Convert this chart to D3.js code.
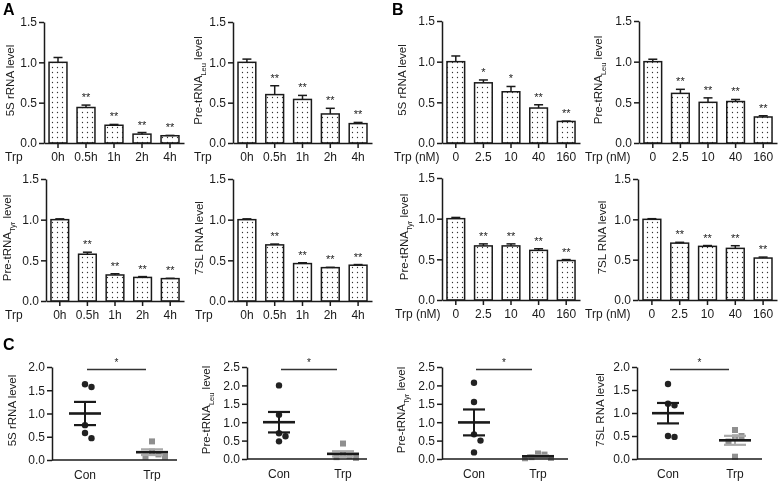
<!DOCTYPE html>
<html><head><meta charset="utf-8">
<script src="https://cdn.jsdelivr.net/npm/d3@7"></script>
<style>
body{margin:0;background:#fff}
svg{display:block;font-family:"Liberation Sans",Arial,Helvetica,sans-serif;filter:grayscale(1)}
</style></head><body>
<svg id="c" width="778" height="481"></svg>
<script>
// ---------- DATA ----------
const timeCats = ["0h","0.5h","1h","2h","4h"];
const doseCats = ["0","2.5","10","40","160"];
const barTicks = [0,0.5,1.0,1.5];

const a5SMean  = [1.00,0.44,0.22,0.11,0.09];
const a5SErr   = [0.06,0.03,0.01,0.02,0.004];
const a5SSig   = ["","**","**","**","**"];
const aLeuMean = [1.00,0.60,0.54,0.36,0.24];
const aLeuErr  = [0.04,0.11,0.05,0.07,0.015];
const aLeuSig  = ["","**","**","**","**"];
const aTyrMean = [1.00,0.575,0.32,0.29,0.275];
const aTyrErr  = [0.01,0.025,0.015,0.01,0.004];
const aTyrSig  = ["","**","**","**","**"];
const a7SLMean = [1.00,0.69,0.46,0.41,0.44];
const a7SLErr  = [0.01,0.01,0.01,0.004,0.008];
const a7SLSig  = ["","**","**","**","**"];

const b5SMean  = [1.00,0.74,0.63,0.43,0.265];
const b5SErr   = [0.07,0.035,0.065,0.04,0.004];
const b5SSig   = ["","*","*","**","**"];
const bLeuMean = [1.00,0.61,0.50,0.51,0.32];
const bLeuErr  = [0.03,0.05,0.055,0.025,0.015];
const bLeuSig  = ["","**","**","**","**"];
const bTyrMean = [1.00,0.665,0.665,0.61,0.485];
const bTyrErr  = [0.015,0.025,0.025,0.02,0.012];
const bTyrSig  = ["","**","**","**","**"];
const b7SLMean = [1.00,0.705,0.665,0.64,0.52];
const b7SLErr  = [0.008,0.01,0.01,0.033,0.012];
const b7SLSig  = ["","**","**","**","**"];

const groups = ["Con","Trp"];
const c5SCon  = [1.63,1.57,0.75,0.58,0.47];
const c5STrp  = [0.40,0.18,0.12,0.07,0.07];
const cLeuCon = [2.00,1.20,0.70,0.62,0.48];
const cLeuTrp = [0.42,0.12,0.08,0.05,0.03];
const cTyrCon = [2.07,1.55,0.67,0.50,0.18];
const cTyrTrp = [0.15,0.12,0.05,0.03,0.02];
const c7SLCon = [1.63,1.20,1.17,0.50,0.48];
const c7SLTrp = [0.63,0.50,0.47,0.38,0.05];
const c5STicks  = [0,0.5,1.0,1.5,2.0];
const cLeuTicks = [0,0.5,1.0,1.5,2.0,2.5];
const cTyrTicks = [0,0.5,1.0,1.5,2.0,2.5];
const c7SLTicks = [0,0.5,1.0,1.5,2.0];
const cSig = "*";

// ---------- LABELS ----------
const L5S  = [{t:"5S rRNA level"}];
const LLeu = [{t:"Pre-tRNA"},{t:"Leu",sup:true},{t:" level"}];
const LTyr = [{t:"Pre-tRNA"},{t:"Tyr",sup:true},{t:" level"}];
const L7SL = [{t:"7SL RNA level"}];

const svg = d3.select("#c");
const defs = svg.append("defs");
const pat = defs.append("pattern").attr("id","dots").attr("patternUnits","userSpaceOnUse")
  .attr("width",5).attr("height",5);
pat.append("rect").attr("width",5).attr("height",5).attr("fill","#fff");
pat.append("circle").attr("cx",2.5).attr("cy",2.5).attr("r",0.65).attr("fill","#333");

const fmt = d3.format(".1f");
const ink = "#1a1a1a";

function yTitle(g, parts, x, y){
  const t = g.append("text").attr("transform",`translate(${x},${y}) rotate(-90)`)
    .attr("text-anchor","middle").attr("font-size",11.5).attr("fill",ink);
  parts.forEach(p=>{
    const s = t.append("tspan").text(p.t);
    if(p.sup){ s.attr("font-size",7.5).attr("dy",4); }
    else if(t.selectAll("tspan").size()>1){ s.attr("dy",-4); }
  });
}

function styleAxis(g){
  g.select(".domain").attr("stroke",ink).attr("stroke-width",1.5);
  g.selectAll(".tick line").attr("stroke",ink).attr("stroke-width",1.5);
  g.selectAll(".tick text").attr("fill",ink).attr("font-size",12).attr("font-family",null);
}

function barPanel(cfg){
  const {cats, mean, err, sig, label, xName, L} = cfg;
  const g = svg.append("g");
  const x = d3.scaleBand().domain(cats).range([L.ax, L.xEnd]).paddingInner(0.36).paddingOuter(0.18);
  const y = d3.scaleLinear().domain([0,1.5]).range([L.yBot, L.yTop]);
  const data = cats.map((c,i)=>({c, v:mean[i], e:err[i], s:sig[i]}));
  g.selectAll("rect.bar").data(data).join("rect").attr("class","bar")
    .attr("x",d=>x(d.c)).attr("width",x.bandwidth())
    .attr("y",d=>y(d.v)).attr("height",d=>y(0)-y(d.v))
    .attr("fill","url(#dots)").attr("stroke",ink).attr("stroke-width",1.5);
  const cx = d=>x(d.c)+x.bandwidth()/2;
  g.selectAll("line.eb").data(data).join("line").attr("class","eb")
    .attr("x1",cx).attr("x2",cx).attr("y1",d=>y(d.v)).attr("y2",d=>y(d.v+d.e))
    .attr("stroke",ink).attr("stroke-width",1.5);
  g.selectAll("line.cap").data(data).join("line").attr("class","cap")
    .attr("x1",d=>cx(d)-4.5).attr("x2",d=>cx(d)+4.5).attr("y1",d=>y(d.v+d.e)).attr("y2",d=>y(d.v+d.e))
    .attr("stroke",ink).attr("stroke-width",1.5);
  g.selectAll("text.sig").data(data).join("text").attr("class","sig")
    .attr("x",cx).attr("y",d=>y(d.v+d.e)-4).attr("text-anchor","middle")
    .attr("font-size",11).attr("fill","#222").text(d=>d.s);
  const ya = g.append("g").attr("transform",`translate(${L.ax},0)`)
    .call(d3.axisLeft(y).tickValues(barTicks).tickFormat(fmt).tickSize(5).tickSizeOuter(0).tickPadding(2));
  styleAxis(ya);
  const xa = g.append("g").attr("transform",`translate(0,${L.yBot})`)
    .call(d3.axisBottom(x).tickSize(5).tickSizeOuter(0).tickPadding(4.5));
  styleAxis(xa);
  g.append("text").attr("x",L.trpX).attr("y",L.yBot+18).attr("font-size",12).attr("fill",ink).text(xName);
  yTitle(g, label, L.labX, (L.yTop+L.yBot)/2-2);
}

function swarm(vals, y, cx){
  const placed = [];
  const offs = [0,6.5,-6.5,13,-13,19.5,-19.5];
  return vals.slice().sort((a,b)=>b-a).map(v=>{
    const py = y(v);
    let px = cx;
    for(const o of offs){
      const tx = cx+o;
      if(placed.every(p=>(p.x-tx)**2+(p.y-py)**2 >= 6.3*6.3)){ px = tx; break; }
    }
    const pt = {x:px, y:py, v};
    placed.push(pt);
    return pt;
  });
}

function scatterPanel(cfg){
  const {con, trp, ticks, label, L} = cfg;
  const g = svg.append("g");
  const max = ticks[ticks.length-1];
  const y = d3.scaleLinear().domain([0,max]).range([L.yBot, L.yTop]);
  const x = d3.scalePoint().domain(groups).range([L.conX, L.trpX]);
  const sets = [{k:"Con", v:con}, {k:"Trp", v:trp}];
  sets.forEach(s=>{
    const cx = x(s.k);
    const m = d3.mean(s.v), sem = d3.deviation(s.v)/Math.sqrt(s.v.length);
    const pts = swarm(s.v, y, cx);
    if(s.k==="Con"){
      g.selectAll(null).data(pts).join("circle").attr("cx",d=>d.x).attr("cy",d=>d.y).attr("r",3.2).attr("fill","#222");
    } else {
      g.selectAll(null).data(pts).join("rect").attr("x",d=>d.x-3).attr("y",d=>d.y-3).attr("width",6).attr("height",6).attr("fill","#8f8f8f");
    }
    const ec = s.k==="Con" ? ink : "#aaa";
    g.append("line").attr("x1",cx).attr("x2",cx).attr("y1",y(m-sem)).attr("y2",y(m+sem)).attr("stroke",ec).attr("stroke-width",2);
    [m-sem, m+sem].forEach(v=>g.append("line").attr("x1",cx-11).attr("x2",cx+11).attr("y1",y(v)).attr("y2",y(v)).attr("stroke",ec).attr("stroke-width",2.2));
    g.append("line").attr("x1",cx-16).attr("x2",cx+16).attr("y1",y(m)).attr("y2",y(m)).attr("stroke",ink).attr("stroke-width",2.6);
  });
  const ya = g.append("g").attr("transform",`translate(${L.ax},0)`)
    .call(d3.axisLeft(y).tickValues(ticks).tickFormat(fmt).tickSize(5).tickSizeOuter(0).tickPadding(2));
  styleAxis(ya);
  g.append("line").attr("x1",L.ax).attr("x2",L.xEnd).attr("y1",L.yBot).attr("y2",L.yBot).attr("stroke",ink).attr("stroke-width",1.5);
  groups.forEach(k=>g.append("text").attr("x",x(k)).attr("y",L.yBot+18.5).attr("text-anchor","middle").attr("font-size",12).attr("fill",ink).text(k));
  const x1 = x("Con")+2, x2 = x("Trp")-6, sy = L.yTop+2.5;
  g.append("line").attr("x1",x1).attr("x2",x2).attr("y1",sy).attr("y2",sy).attr("stroke","#333").attr("stroke-width",1.5);
  g.append("text").attr("x",(x1+x2)/2).attr("y",sy-4).attr("text-anchor","middle").attr("font-size",10).attr("fill",ink).text(cSig);
  yTitle(g, label, L.labX, (L.yTop+L.yBot)/2-3);
}

// ---------- PANELS ----------
barPanel({cats:timeCats, mean:a5SMean,  err:a5SErr,  sig:a5SSig,  label:L5S,  xName:"Trp", L:{ax:44,  xEnd:184, yTop:22,  yBot:143, labX:14,  trpX:5}});
barPanel({cats:timeCats, mean:aLeuMean, err:aLeuErr, sig:aLeuSig, label:LLeu, xName:"Trp", L:{ax:233, xEnd:372, yTop:22,  yBot:143, labX:202, trpX:194}});
barPanel({cats:timeCats, mean:aTyrMean, err:aTyrErr, sig:aTyrSig, label:LTyr, xName:"Trp", L:{ax:46,  xEnd:184, yTop:179, yBot:301, labX:11,  trpX:5}});
barPanel({cats:timeCats, mean:a7SLMean, err:a7SLErr, sig:a7SLSig, label:L7SL, xName:"Trp", L:{ax:233, xEnd:372, yTop:179, yBot:301, labX:203, trpX:195}});
barPanel({cats:doseCats, mean:b5SMean,  err:b5SErr,  sig:b5SSig,  label:L5S,  xName:"Trp (nM)", L:{ax:442, xEnd:580, yTop:21,  yBot:143, labX:406, trpX:394}});
barPanel({cats:doseCats, mean:bLeuMean, err:bLeuErr, sig:bLeuSig, label:LLeu, xName:"Trp (nM)", L:{ax:639, xEnd:777, yTop:21,  yBot:143, labX:602, trpX:585}});
barPanel({cats:doseCats, mean:bTyrMean, err:bTyrErr, sig:bTyrSig, label:LTyr, xName:"Trp (nM)", L:{ax:442, xEnd:580, yTop:178, yBot:300, labX:408, trpX:395}});
barPanel({cats:doseCats, mean:b7SLMean, err:b7SLErr, sig:b7SLSig, label:L7SL, xName:"Trp (nM)", L:{ax:638, xEnd:777, yTop:179, yBot:300, labX:606, trpX:585}});

scatterPanel({con:c5SCon,  trp:c5STrp,  ticks:c5STicks,  label:L5S,  L:{ax:52,  xEnd:177, yTop:367, yBot:460, conX:85,  trpX:152, labX:16}});
scatterPanel({con:cLeuCon, trp:cLeuTrp, ticks:cLeuTicks, label:LLeu, L:{ax:247, xEnd:367, yTop:367, yBot:459, conX:279, trpX:343, labX:210}});
scatterPanel({con:cTyrCon, trp:cTyrTrp, ticks:cTyrTicks, label:LTyr, L:{ax:442, xEnd:568, yTop:367, yBot:459, conX:474, trpX:538, labX:405}});
scatterPanel({con:c7SLCon, trp:c7SLTrp, ticks:c7SLTicks, label:L7SL, L:{ax:637, xEnd:762, yTop:367, yBot:459, conX:668, trpX:735, labX:604}});

// panel letters
[["A",3,15],["B",392,15],["C",3,350]].forEach(([t,x,y])=>
  svg.append("text").attr("x",x).attr("y",y).attr("font-size",16).attr("font-weight","bold").attr("fill","#000").text(t));
</script>
</body></html>
